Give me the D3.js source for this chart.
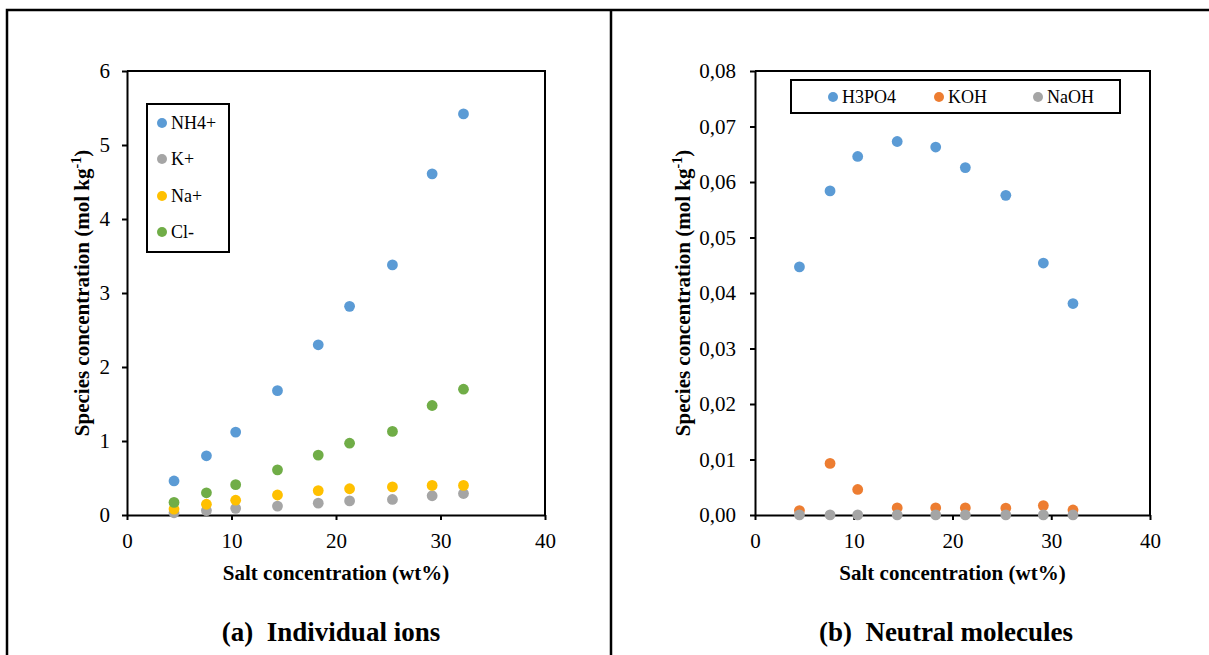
<!DOCTYPE html>
<html>
<head>
<meta charset="utf-8">
<script src="https://d3js.org/d3.v7.min.js"></script>
<style>
	body { margin: 0; background: #fff; }
	.domain { stroke: #000; stroke-width: 2px; }
	.tick line { stroke: #000; stroke-width: 2px; }
</style>
</head>
<body>
<div class="wrapper"></div>
<script>

// salt concentration (wt%) shared by both panels
var saltConc = [4.5, 7.6, 10.4, 14.4, 18.3, 21.3, 25.4, 29.2, 32.2];

// (a) individual ions, mol/kg
var ionNames = ["NH4+", "K+", "Na+", "Cl-"];
var nh4 = [0.46, 0.80, 1.12, 1.68, 2.30, 2.82, 3.38, 4.61, 5.42];
var kPlus = [0.03, 0.06, 0.09, 0.12, 0.16, 0.19, 0.21, 0.26, 0.29];
var naPlus = [0.08, 0.145, 0.20, 0.27, 0.33, 0.355, 0.38, 0.40, 0.40];
var clMinus = [0.17, 0.30, 0.41, 0.61, 0.81, 0.97, 1.13, 1.48, 1.70];

// (b) neutral molecules, mol/kg
var molNames = ["H3PO4", "KOH", "NaOH"];
var h3po4 = [0.0447, 0.0584, 0.0646, 0.0673, 0.0663, 0.0626, 0.0576, 0.0454, 0.0381];
var koh = [0.0008, 0.0093, 0.0046, 0.0013, 0.0013, 0.0013, 0.00125, 0.0017, 0.0009];
var naoh = [0.00002, 0.00002, 0.00002, 0.00002, 0.00002, 0.00002, 0.00002, 0.00002, 0.00002];

var xTicks = [0, 10, 20, 30, 40];
var ionTicks = [0, 1, 2, 3, 4, 5, 6];
var molTicks = [0, 0.01, 0.02, 0.03, 0.04, 0.05, 0.06, 0.07, 0.08];

var BLUE = "#5B9BD5", GRAY = "#A5A5A5", YELLOW = "#FFC000", GREEN = "#70AD47", ORANGE = "#ED7D31";
var R = 5.4;
var FONT = "'Liberation Serif', 'Times New Roman', Times, 'DejaVu Serif', serif";

var svg = d3.select(".wrapper")
	.append("svg")
		.attr("width", 1209)
		.attr("height", 655)
		.style("font-family", FONT);

// outer table borders
svg.append("path")
	.attr("d", "M7,655 V10 H1209 M611,10 V655")
	.attr("fill", "none")
	.attr("stroke", "#000")
	.attr("stroke-width", 2.5);

var commaFmt = function(d) { return d3.format(".2f")(d).replace(".", ","); };

function drawPanel(p) {
	var x = d3.scaleLinear().domain([0, 40]).range([p.left, p.right]);
	var y = d3.scaleLinear().domain([0, p.yMax]).range([515, 71]);

	// frame top + right
	svg.append("path")
		.attr("d", "M" + p.left + ",71 H" + p.right + " V515")
		.attr("fill", "none")
		.attr("stroke", "#000")
		.attr("stroke-width", 2);

	svg.append("g")
		.attr("transform", "translate(0,515)")
		.call(d3.axisBottom(x).tickValues(xTicks).tickSize(5).tickSizeOuter(0).tickPadding(13));
	svg.append("g")
		.attr("transform", "translate(" + p.left + ",0)")
		.call(d3.axisLeft(y).tickValues(p.yTicks).tickSize(5).tickSizeOuter(0).tickPadding(p.pad).tickFormat(p.fmt));
	svg.selectAll("g").attr("font-family", null);
	svg.selectAll(".tick text")
		.attr("font-size", 21)
		.attr("fill", "#000")
		.style("font-family", FONT);

	// points, later series drawn on top
	p.series.forEach(function(s) {
		svg.append("g")
			.selectAll("circle")
			.data(s.values)
			.enter()
			.append("circle")
				.attr("cx", function(d, i) { return x(saltConc[i]); })
				.attr("cy", function(d) { return y(d); })
				.attr("r", R)
				.attr("fill", s.color);
	});

	svg.append("text")
		.attr("x", (p.left + p.right) / 2)
		.attr("y", 580)
		.attr("text-anchor", "middle")
		.attr("font-weight", "bold")
		.attr("font-size", 21)
		.style("font-family", FONT)
		.text("Salt concentration (wt%)");

	var yt = svg.append("text")
		.attr("transform", "translate(" + p.yTitleX + ",293) rotate(-90)")
		.attr("text-anchor", "middle")
		.attr("font-weight", "bold")
		.attr("font-size", 21)
		.style("font-family", FONT);
	yt.append("tspan").text("Species concentration (mol kg");
	yt.append("tspan").attr("font-size", 14).attr("dy", -8).text("-1");
	yt.append("tspan").attr("dy", 8).text(")");

	svg.append("text")
		.attr("x", p.titleX)
		.attr("y", 641)
		.attr("text-anchor", "middle")
		.attr("font-weight", "bold")
		.attr("font-size", 27)
		.style("font-family", FONT)
		.style("white-space", "pre")
		.text(p.title);

	// legend
	var lg = p.legend;
	svg.append("rect")
		.attr("x", lg.x).attr("y", lg.y)
		.attr("width", lg.w).attr("height", lg.h)
		.attr("fill", "#fff")
		.attr("stroke", "#000")
		.attr("stroke-width", 2);
	p.series.forEach(function(s, i) {
		var mx = lg.items[i][0], my = lg.items[i][1];
		svg.append("circle")
			.attr("cx", mx).attr("cy", my)
			.attr("r", 5)
			.attr("fill", s.color);
		svg.append("text")
			.attr("x", mx + 9)
			.attr("y", my + 6)
			.attr("font-size", 18)
			.style("font-family", FONT)
			.text(s.name);
	});
}

drawPanel({
	left: 127, right: 545, yMax: 6, yTicks: ionTicks, pad: 12,
	fmt: d3.format("d"),
	yTitleX: 89, titleX: 331, title: "(a)  Individual ions",
	series: [
		{name: ionNames[0], values: nh4, color: BLUE},
		{name: ionNames[1], values: kPlus, color: GRAY},
		{name: ionNames[2], values: naPlus, color: YELLOW},
		{name: ionNames[3], values: clMinus, color: GREEN}
	],
	legend: {x: 147, y: 104, w: 82, h: 148,
		items: [[162, 123], [162, 159], [162, 196], [162, 232]]}
});

drawPanel({
	left: 755, right: 1150, yMax: 0.08, yTicks: molTicks, pad: 14,
	fmt: commaFmt,
	yTitleX: 690, titleX: 946, title: "(b)  Neutral molecules",
	series: [
		{name: molNames[0], values: h3po4, color: BLUE},
		{name: molNames[1], values: koh, color: ORANGE},
		{name: molNames[2], values: naoh, color: GRAY}
	],
	legend: {x: 791, y: 80, w: 329, h: 33,
		items: [[833, 97], [939, 97], [1038, 97]]}
});

</script>
</body>
</html>
